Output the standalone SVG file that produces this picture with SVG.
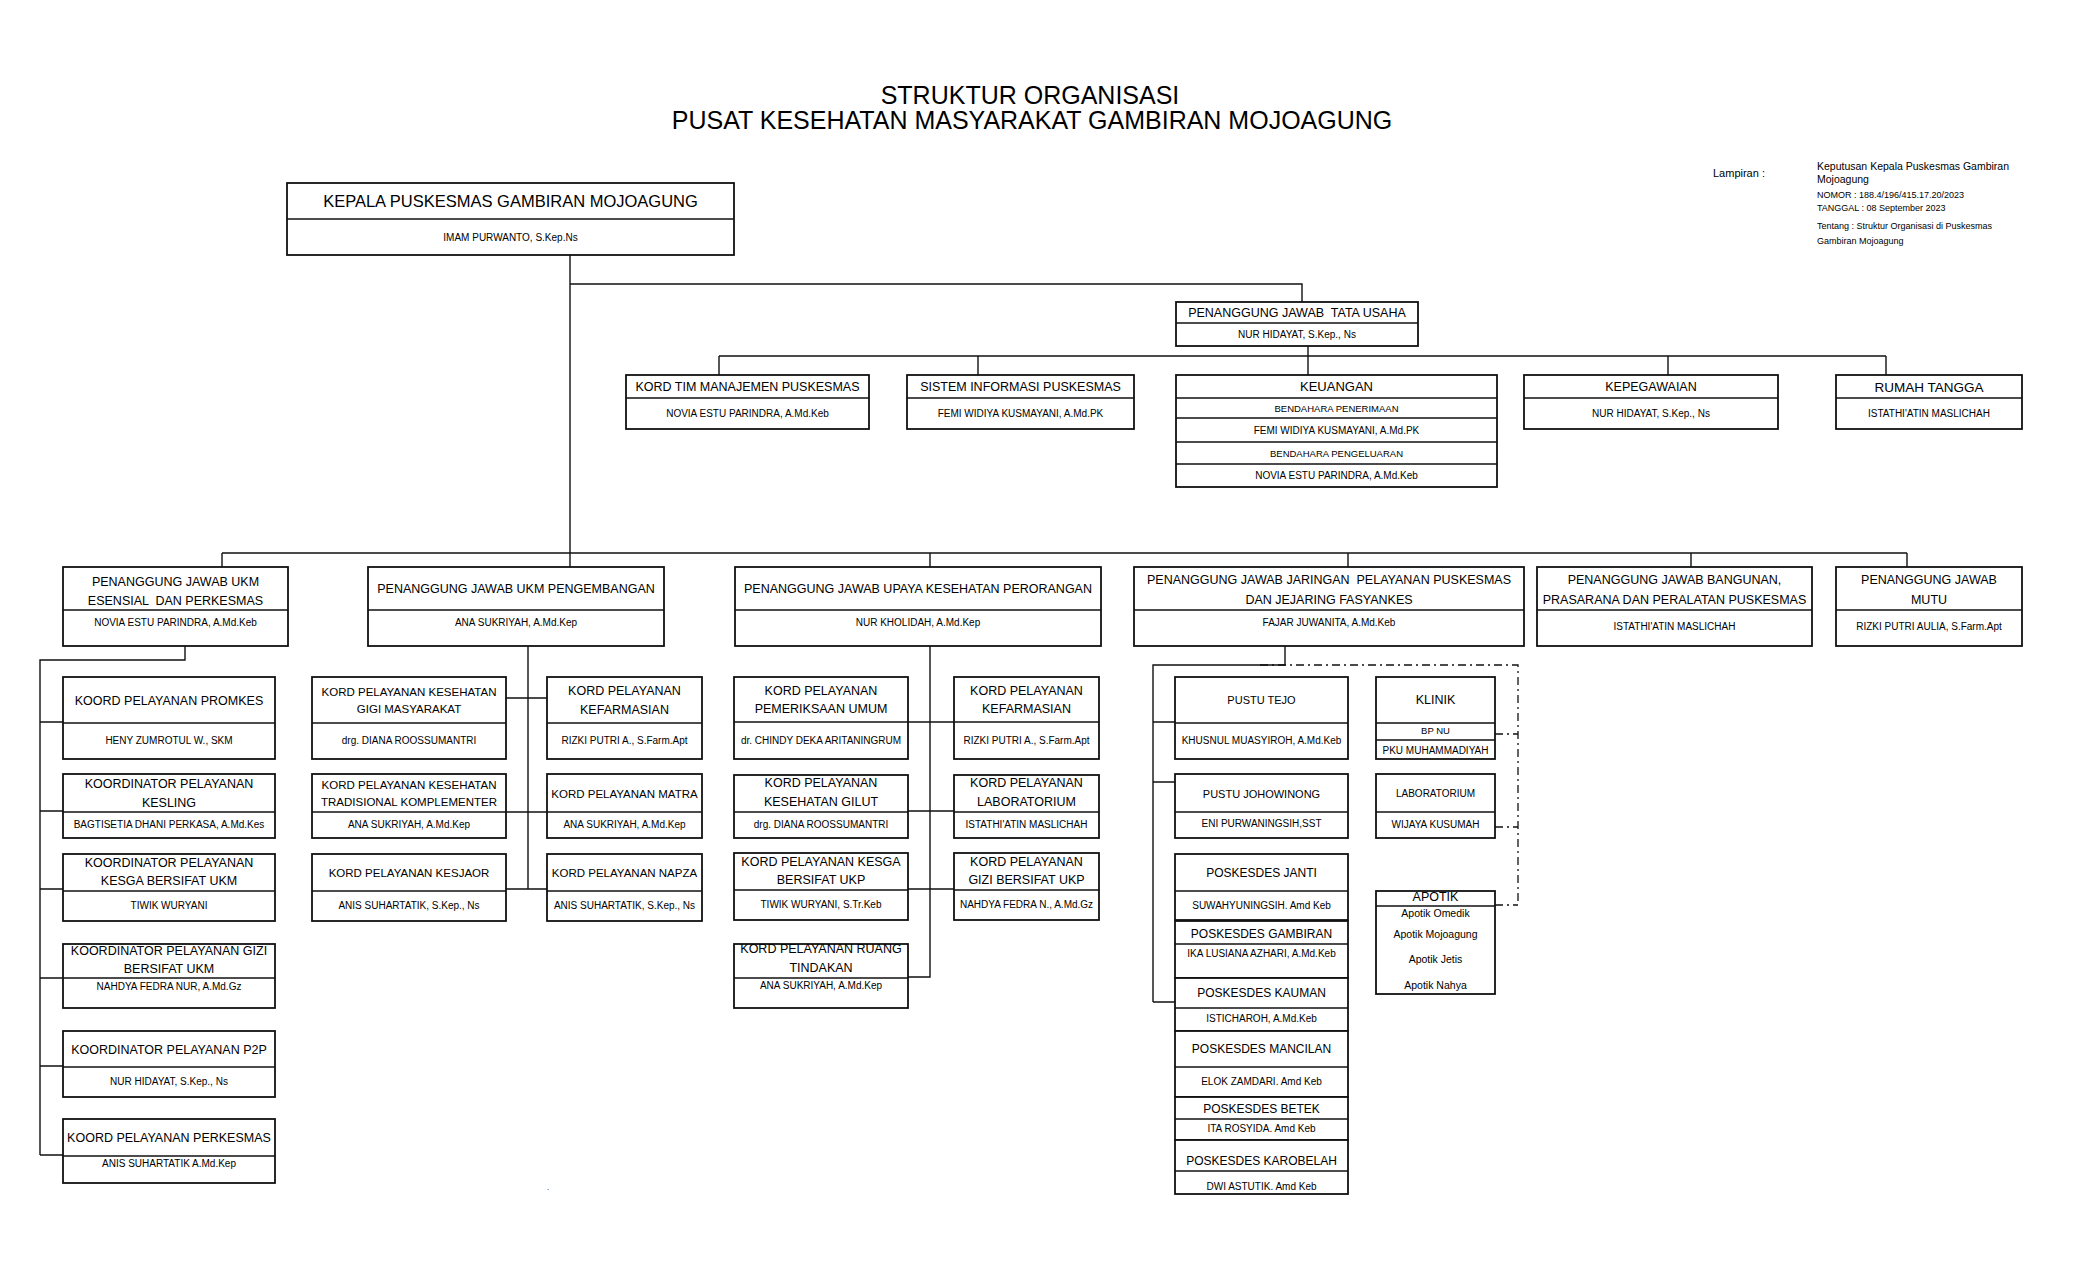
<svg xmlns="http://www.w3.org/2000/svg" width="2100" height="1275" viewBox="0 0 2100 1275">
<style>
.b{fill:#fff;stroke:#111;stroke-width:1.8}
.dv{stroke:#111;stroke-width:1.5}
.c{fill:none;stroke:#111;stroke-width:1.4}
.dd{fill:none;stroke:#111;stroke-width:1.3;stroke-dasharray:8 4 2 4}
text{font-family:"Liberation Sans",Arial,sans-serif;fill:#000;text-anchor:middle}
.t{font-size:25px}
.k{font-size:16.5px}
.h{font-size:12.5px}
.hs{font-size:11.5px}
.p{font-size:12px}
.n{font-size:10px}
.s{font-size:9.5px}
.ap{font-size:10.5px}
.l{text-anchor:start}
.pre{white-space:pre}
</style>
<rect width="2100" height="1275" fill="#fff"/>
<g id="title">
<text class="t" x="1030" y="104">STRUKTUR ORGANISASI</text>
<text class="t" x="1032" y="129">PUSAT KESEHATAN MASYARAKAT GAMBIRAN MOJOAGUNG</text>
</g>
<g id="lampiran">
<text class="l" x="1713" y="177" font-size="11">Lampiran :</text>
<text class="l" x="1817" y="170" font-size="10.5">Keputusan Kepala Puskesmas Gambiran</text>
<text class="l" x="1817" y="183" font-size="10.5">Mojoagung</text>
<text class="l" x="1817" y="198" font-size="9">NOMOR : 188.4/196/415.17.20/2023</text>
<text class="l" x="1817" y="211" font-size="9">TANGGAL : 08 September 2023</text>
<text class="l" x="1817" y="229" font-size="9">Tentang : Struktur Organisasi di Puskesmas</text>
<text class="l" x="1817" y="244" font-size="9">Gambiran Mojoagung</text>
</g>
<g id="connectors">
<path class="c" d="M570 255V567 M570 284H1302V302 M1308 346V375 M719 356H1886 M719 356V375 M978 356V375 M1668 356V375 M1886 356V375 M222 553H1907 M222 553V567 M930 553V567 M1348 553V567 M1691 553V567 M1907 553V567 M185 646V660H40V1155 M40 722H63 M40 811H63 M40 889H63 M40 978H63 M40 1066H63 M40 1155H63 M528 646V889 M506 698H547 M506 812H547 M506 889H547 M930 646V977H908 M908 722H954 M908 811H954 M908 889H954 M1285 646V665H1153V1002 M1153 722H1175 M1153 782H1175 M1153 1002H1175"/>
<path class="dd" d="M1260 665H1518V905 M1495 734H1518 M1495 827H1518 M1495 905H1518"/>
</g>
<g id="kepala">
<rect class="b" x="287" y="183" width="447" height="72"/><line class="dv" x1="287" y1="219" x2="734" y2="219"/>
<text class="k" x="510.5" y="207">KEPALA PUSKESMAS GAMBIRAN MOJOAGUNG</text>
<text class="n" x="510.5" y="241">IMAM PURWANTO, S.Kep.Ns</text>
</g>
<g id="tata-usaha">
<rect class="b" x="1176" y="302" width="242" height="44"/><line class="dv" x1="1176" y1="323" x2="1418" y2="323"/>
<text class="h pre" x="1297" y="317">PENANGGUNG JAWAB  TATA USAHA</text>
<text class="n" x="1297" y="338">NUR HIDAYAT, S.Kep., Ns</text>
</g>
<g id="kord-tim">
<rect class="b" x="626" y="375" width="243" height="54"/><line class="dv" x1="626" y1="398" x2="869" y2="398"/>
<text class="h" x="747.5" y="391">KORD TIM MANAJEMEN PUSKESMAS</text>
<text class="n" x="747.5" y="417">NOVIA ESTU PARINDRA, A.Md.Keb</text>
</g>
<g id="sistem-informasi">
<rect class="b" x="907" y="375" width="227" height="54"/><line class="dv" x1="907" y1="398" x2="1134" y2="398"/>
<text class="h" x="1020.5" y="391">SISTEM INFORMASI PUSKESMAS</text>
<text class="n" x="1020.5" y="417">FEMI WIDIYA KUSMAYANI, A.Md.PK</text>
</g>
<g id="keuangan">
<rect class="b" x="1176" y="375" width="321" height="112"/>
<path class="dv" d="M1176 398H1497 M1176 418H1497 M1176 442H1497 M1176 464H1497"/>
<text x="1336.5" y="391" font-size="13">KEUANGAN</text>
<text class="s" x="1336.5" y="411.5">BENDAHARA PENERIMAAN</text>
<text class="n" x="1336.5" y="433.5">FEMI WIDIYA KUSMAYANI, A.Md.PK</text>
<text class="s" x="1336.5" y="456.5">BENDAHARA PENGELUARAN</text>
<text class="n" x="1336.5" y="479">NOVIA ESTU PARINDRA, A.Md.Keb</text>
</g>
<g id="kepegawaian">
<rect class="b" x="1524" y="375" width="254" height="54"/><line class="dv" x1="1524" y1="398" x2="1778" y2="398"/>
<text class="h" x="1651" y="391">KEPEGAWAIAN</text>
<text class="n" x="1651" y="417">NUR HIDAYAT, S.Kep., Ns</text>
</g>
<g id="rumah-tangga">
<rect class="b" x="1836" y="375" width="186" height="54"/><line class="dv" x1="1836" y1="398" x2="2022" y2="398"/>
<text x="1929" y="391.5" font-size="13.5">RUMAH TANGGA</text>
<text class="n" x="1929" y="417">ISTATHI'ATIN MASLICHAH</text>
</g>
<g id="pj-ukm-esensial">
<rect class="b" x="63" y="567" width="225" height="79"/><line class="dv" x1="63" y1="610" x2="288" y2="610"/>
<text class="h" x="175.5" y="586">PENANGGUNG JAWAB UKM</text>
<text class="h pre" x="175.5" y="604.5">ESENSIAL  DAN PERKESMAS</text>
<text class="n" x="175.5" y="626">NOVIA ESTU PARINDRA, A.Md.Keb</text>
</g>
<g id="pj-ukm-pengembangan">
<rect class="b" x="368" y="567" width="296" height="79"/><line class="dv" x1="368" y1="610" x2="664" y2="610"/>
<text class="h" x="516" y="592.5">PENANGGUNG JAWAB UKM PENGEMBANGAN</text>
<text class="n" x="516" y="626">ANA SUKRIYAH, A.Md.Kep</text>
</g>
<g id="pj-ukp">
<rect class="b" x="735" y="567" width="366" height="79"/><line class="dv" x1="735" y1="610" x2="1101" y2="610"/>
<text class="h" x="918" y="592.5">PENANGGUNG JAWAB UPAYA KESEHATAN PERORANGAN</text>
<text class="n" x="918" y="626">NUR KHOLIDAH, A.Md.Kep</text>
</g>
<g id="pj-jaringan">
<rect class="b" x="1134" y="567" width="390" height="79"/><line class="dv" x1="1134" y1="610" x2="1524" y2="610"/>
<text class="h pre" x="1329" y="583.5">PENANGGUNG JAWAB JARINGAN  PELAYANAN PUSKESMAS</text>
<text class="h" x="1329" y="603.5">DAN JEJARING FASYANKES</text>
<text class="n" x="1329" y="626">FAJAR JUWANITA, A.Md.Keb</text>
</g>
<g id="pj-bangunan">
<rect class="b" x="1537" y="567" width="275" height="79"/><line class="dv" x1="1537" y1="610" x2="1812" y2="610"/>
<text class="h" x="1674.5" y="583.5">PENANGGUNG JAWAB BANGUNAN,</text>
<text class="h" x="1674.5" y="603.5">PRASARANA DAN PERALATAN PUSKESMAS</text>
<text class="n" x="1674.5" y="630">ISTATHI'ATIN MASLICHAH</text>
</g>
<g id="pj-mutu">
<rect class="b" x="1836" y="567" width="186" height="79"/><line class="dv" x1="1836" y1="610" x2="2022" y2="610"/>
<text class="h" x="1929" y="583.5">PENANGGUNG JAWAB</text>
<text class="h" x="1929" y="603.5">MUTU</text>
<text class="n" x="1929" y="630">RIZKI PUTRI AULIA, S.Farm.Apt</text>
</g>
<g id="promkes">
<rect class="b" x="63" y="677" width="212" height="82"/><line class="dv" x1="63" y1="723" x2="275" y2="723"/>
<text class="h" x="169" y="705">KOORD PELAYANAN PROMKES</text>
<text class="n" x="169" y="744">HENY ZUMROTUL W., SKM</text>
</g>
<g id="kesling">
<rect class="b" x="63" y="774" width="212" height="64"/><line class="dv" x1="63" y1="812" x2="275" y2="812"/>
<text class="h" x="169" y="788">KOORDINATOR PELAYANAN</text>
<text class="h" x="169" y="807">KESLING</text>
<text class="n" x="169" y="828" font-size="9.8">BAGTISETIA DHANI PERKASA, A.Md.Kes</text>
</g>
<g id="kesga-ukm">
<rect class="b" x="63" y="854" width="212" height="67"/><line class="dv" x1="63" y1="891" x2="275" y2="891"/>
<text class="h" x="169" y="867">KOORDINATOR PELAYANAN</text>
<text class="h" x="169" y="885">KESGA BERSIFAT UKM</text>
<text class="n" x="169" y="909">TIWIK WURYANI</text>
</g>
<g id="gizi-ukm">
<rect class="b" x="63" y="944" width="212" height="64"/><line class="dv" x1="63" y1="978" x2="275" y2="978"/>
<text class="h" x="169" y="955">KOORDINATOR PELAYANAN GIZI</text>
<text class="h" x="169" y="973">BERSIFAT UKM</text>
<text class="n" x="169" y="990">NAHDYA FEDRA NUR, A.Md.Gz</text>
</g>
<g id="p2p">
<rect class="b" x="63" y="1031" width="212" height="66"/><line class="dv" x1="63" y1="1067" x2="275" y2="1067"/>
<text class="h" x="169" y="1054">KOORDINATOR PELAYANAN P2P</text>
<text class="n" x="169" y="1085">NUR HIDAYAT, S.Kep., Ns</text>
</g>
<g id="perkesmas">
<rect class="b" x="63" y="1119" width="212" height="64"/><line class="dv" x1="63" y1="1156" x2="275" y2="1156"/>
<text class="h" x="169" y="1142">KOORD PELAYANAN PERKESMAS</text>
<text class="n" x="169" y="1167">ANIS SUHARTATIK A.Md.Kep</text>
</g>
<g id="gigi-masyarakat">
<rect class="b" x="312" y="677" width="194" height="82"/><line class="dv" x1="312" y1="723" x2="506" y2="723"/>
<text class="hs" x="409" y="696">KORD PELAYANAN KESEHATAN</text>
<text class="hs" x="409" y="713">GIGI MASYARAKAT</text>
<text class="n" x="409" y="744">drg. DIANA ROOSSUMANTRI</text>
</g>
<g id="kefarmasian-ukm">
<rect class="b" x="547" y="677" width="155" height="82"/><line class="dv" x1="547" y1="723" x2="702" y2="723"/>
<text class="h" x="624.5" y="695">KORD PELAYANAN</text>
<text class="h" x="624.5" y="714">KEFARMASIAN</text>
<text class="n" x="624.5" y="744">RIZKI PUTRI A., S.Farm.Apt</text>
</g>
<g id="tradisional">
<rect class="b" x="312" y="774" width="194" height="64"/><line class="dv" x1="312" y1="812" x2="506" y2="812"/>
<text class="hs" x="409" y="789">KORD PELAYANAN KESEHATAN</text>
<text class="hs" x="409" y="806">TRADISIONAL KOMPLEMENTER</text>
<text class="n" x="409" y="828">ANA SUKRIYAH, A.Md.Kep</text>
</g>
<g id="matra">
<rect class="b" x="547" y="774" width="155" height="64"/><line class="dv" x1="547" y1="812" x2="702" y2="812"/>
<text class="hs" x="624.5" y="798">KORD PELAYANAN MATRA</text>
<text class="n" x="624.5" y="828">ANA SUKRIYAH, A.Md.Kep</text>
</g>
<g id="kesjaor">
<rect class="b" x="312" y="854" width="194" height="67"/><line class="dv" x1="312" y1="891" x2="506" y2="891"/>
<text class="hs" x="409" y="877">KORD PELAYANAN KESJAOR</text>
<text class="n" x="409" y="909">ANIS SUHARTATIK, S.Kep., Ns</text>
</g>
<g id="napza">
<rect class="b" x="547" y="854" width="155" height="67"/><line class="dv" x1="547" y1="891" x2="702" y2="891"/>
<text class="hs" x="624.5" y="877">KORD PELAYANAN NAPZA</text>
<text class="n" x="624.5" y="909">ANIS SUHARTATIK, S.Kep., Ns</text>
</g>
<g id="pemeriksaan-umum">
<rect class="b" x="734" y="677" width="174" height="82"/><line class="dv" x1="734" y1="722" x2="908" y2="722"/>
<text class="h" x="821" y="695">KORD PELAYANAN</text>
<text class="h" x="821" y="713">PEMERIKSAAN UMUM</text>
<text class="n" x="821" y="744" font-size="9.8">dr. CHINDY DEKA ARITANINGRUM</text>
</g>
<g id="kefarmasian-ukp">
<rect class="b" x="954" y="677" width="145" height="82"/><line class="dv" x1="954" y1="722" x2="1099" y2="722"/>
<text class="h" x="1026.5" y="695">KORD PELAYANAN</text>
<text class="h" x="1026.5" y="713">KEFARMASIAN</text>
<text class="n" x="1026.5" y="744">RIZKI PUTRI A., S.Farm.Apt</text>
</g>
<g id="gilut">
<rect class="b" x="734" y="775" width="174" height="63"/><line class="dv" x1="734" y1="812" x2="908" y2="812"/>
<text class="h" x="821" y="787">KORD PELAYANAN</text>
<text class="h" x="821" y="806">KESEHATAN GILUT</text>
<text class="n" x="821" y="828">drg. DIANA ROOSSUMANTRI</text>
</g>
<g id="laboratorium-ukp">
<rect class="b" x="954" y="775" width="145" height="63"/><line class="dv" x1="954" y1="812" x2="1099" y2="812"/>
<text class="h" x="1026.5" y="787">KORD PELAYANAN</text>
<text class="h" x="1026.5" y="806">LABORATORIUM</text>
<text class="n" x="1026.5" y="828">ISTATHI'ATIN MASLICHAH</text>
</g>
<g id="kesga-ukp">
<rect class="b" x="734" y="853" width="174" height="67"/><line class="dv" x1="734" y1="890" x2="908" y2="890"/>
<text class="h" x="821" y="866">KORD PELAYANAN KESGA</text>
<text class="h" x="821" y="884">BERSIFAT UKP</text>
<text class="n" x="821" y="908">TIWIK WURYANI, S.Tr.Keb</text>
</g>
<g id="gizi-ukp">
<rect class="b" x="954" y="853" width="145" height="67"/><line class="dv" x1="954" y1="890" x2="1099" y2="890"/>
<text class="h" x="1026.5" y="866">KORD PELAYANAN</text>
<text class="h" x="1026.5" y="884">GIZI BERSIFAT UKP</text>
<text class="n" x="1026.5" y="908">NAHDYA FEDRA N., A.Md.Gz</text>
</g>
<g id="ruang-tindakan">
<rect class="b" x="734" y="944" width="174" height="64"/><line class="dv" x1="734" y1="978" x2="908" y2="978"/>
<text class="h" x="821" y="953">KORD PELAYANAN RUANG</text>
<text class="h" x="821" y="972">TINDAKAN</text>
<text class="n" x="821" y="989">ANA SUKRIYAH, A.Md.Kep</text>
</g>
<g id="pustu-tejo">
<rect class="b" x="1175" y="677" width="173" height="82"/><line class="dv" x1="1175" y1="723" x2="1348" y2="723"/>
<text x="1261.5" y="704" font-size="11">PUSTU TEJO</text>
<text class="n" x="1261.5" y="744">KHUSNUL MUASYIROH, A.Md.Keb</text>
</g>
<g id="pustu-johowinong">
<rect class="b" x="1175" y="774" width="173" height="64"/><line class="dv" x1="1175" y1="812" x2="1348" y2="812"/>
<text x="1261.5" y="798" font-size="11">PUSTU JOHOWINONG</text>
<text class="n" x="1261.5" y="827">ENI PURWANINGSIH,SST</text>
</g>
<g id="poskesdes-janti">
<rect class="b" x="1175" y="854" width="173" height="66"/><line class="dv" x1="1175" y1="891" x2="1348" y2="891"/>
<text class="p" x="1261.5" y="877">POSKESDES JANTI</text>
<text class="n" x="1261.5" y="909">SUWAHYUNINGSIH. Amd Keb</text>
</g>
<g id="poskesdes-gambiran">
<rect class="b" x="1175" y="921" width="173" height="57"/><line class="dv" x1="1175" y1="944" x2="1348" y2="944"/>
<text class="p" x="1261.5" y="938">POSKESDES GAMBIRAN</text>
<text class="n" x="1261.5" y="957">IKA LUSIANA AZHARI, A.Md.Keb</text>
</g>
<g id="poskesdes-kauman">
<rect class="b" x="1175" y="978" width="173" height="53"/><line class="dv" x1="1175" y1="1008" x2="1348" y2="1008"/>
<text class="p" x="1261.5" y="997">POSKESDES KAUMAN</text>
<text class="n" x="1261.5" y="1022">ISTICHAROH, A.Md.Keb</text>
</g>
<g id="poskesdes-mancilan">
<rect class="b" x="1175" y="1031" width="173" height="66"/><line class="dv" x1="1175" y1="1067" x2="1348" y2="1067"/>
<text class="p" x="1261.5" y="1053">POSKESDES MANCILAN</text>
<text class="n" x="1261.5" y="1085">ELOK ZAMDARI. Amd Keb</text>
</g>
<g id="poskesdes-betek">
<rect class="b" x="1175" y="1097" width="173" height="43"/><line class="dv" x1="1175" y1="1119" x2="1348" y2="1119"/>
<text class="p" x="1261.5" y="1113">POSKESDES BETEK</text>
<text class="n" x="1261.5" y="1132">ITA ROSYIDA. Amd Keb</text>
</g>
<g id="poskesdes-karobelah">
<rect class="b" x="1175" y="1140" width="173" height="54"/><line class="dv" x1="1175" y1="1171" x2="1348" y2="1171"/>
<text class="p" x="1261.5" y="1165">POSKESDES KAROBELAH</text>
<text class="n" x="1261.5" y="1190">DWI ASTUTIK. Amd Keb</text>
</g>
<g id="klinik">
<rect class="b" x="1376" y="677" width="119" height="82"/>
<path class="dv" d="M1376 723H1495 M1376 740H1495"/>
<text class="h" x="1435.5" y="704">KLINIK</text>
<text class="s" x="1435.5" y="734">BP NU</text>
<text class="n" x="1435.5" y="754">PKU MUHAMMADIYAH</text>
</g>
<g id="laboratorium">
<rect class="b" x="1376" y="774" width="119" height="64"/><line class="dv" x1="1376" y1="812" x2="1495" y2="812"/>
<text class="n" x="1435.5" y="797">LABORATORIUM</text>
<text class="n" x="1435.5" y="828">WIJAYA KUSUMAH</text>
</g>
<g id="apotik">
<rect class="b" x="1376" y="891" width="119" height="103"/><line class="dv" x1="1376" y1="906" x2="1495" y2="906"/>
<text class="h" x="1435.5" y="901">APOTIK</text>
<text class="ap" x="1435.5" y="917">Apotik Omedik</text>
<text class="ap" x="1435.5" y="938">Apotik Mojoagung</text>
<text class="ap" x="1435.5" y="963">Apotik Jetis</text>
<text class="ap" x="1435.5" y="989">Apotik Nahya</text>
</g>
<text x="548" y="1190" font-size="8">.</text>
</svg>
